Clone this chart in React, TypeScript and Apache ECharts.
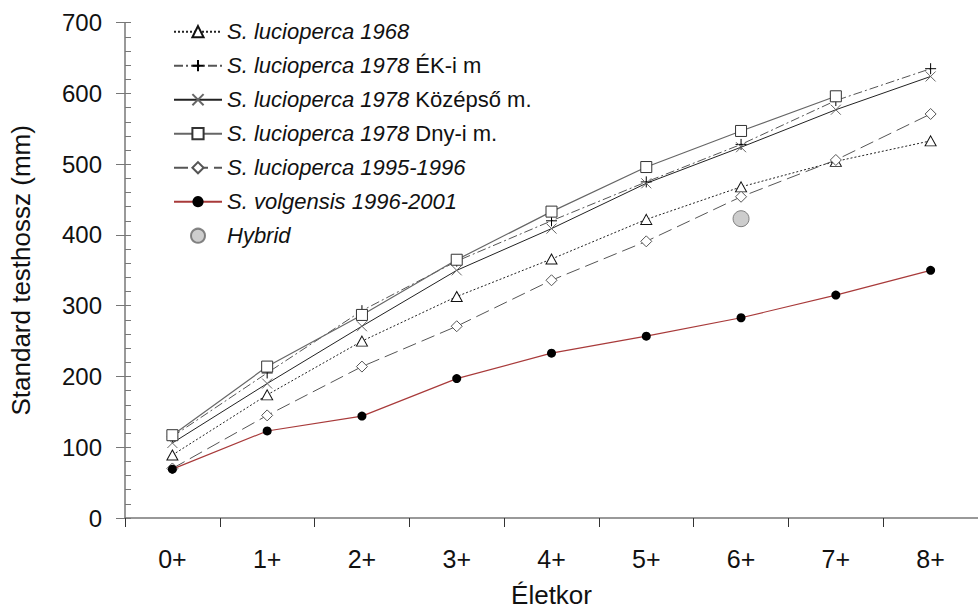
import React, { useEffect, useRef } from "react";
import * as echarts from "echarts";

const categories = ["0+", "1+", "2+", "3+", "4+", "5+", "6+", "7+", "8+"];
const yTicks = [0, 100, 200, 300, 400, 500, 600, 700];

const luc1968 = [89, 174, 250, 313, 366, 422, 468, 504, 533];
const luc1978EK = [115, 205, 293, 363, 420, 475, 528, 590, 635];
const luc1978Kozep = [106, 190, 271, 350, 409, 473, 524, 577, 624];
const luc1978Dny = [117, 214, 287, 365, 433, 496, 547, 596, null];
const luc1995 = [70, 145, 214, 271, 336, 391, 454, 506, 571];
const volgensis = [69, 123, 144, 197, 233, 257, 283, 315, 350];
const hybrid = [null, null, null, null, null, null, 423, null, null];

const legendLabels: Record<string, [string, string]> = {
  "S. lucioperca 1968": ["S. lucioperca 1968", ""],
  "S. lucioperca 1978 ÉK-i m": ["S. lucioperca 1978", "ÉK-i m"],
  "S. lucioperca 1978 Középső m.": ["S. lucioperca 1978", "Középső m."],
  "S. lucioperca 1978 Dny-i m.": ["S. lucioperca 1978", "Dny-i m."],
  "S. lucioperca 1995-1996": ["S. lucioperca 1995-1996", ""],
  "S. volgensis 1996-2001": ["S. volgensis 1996-2001", ""],
  Hybrid: ["Hybrid", ""],
};

const FONT = "Arial, 'Liberation Sans', sans-serif";

export default function App() {
  const ref = useRef<HTMLDivElement>(null);
  useEffect(() => {
    if (!ref.current) return;
    const chart = echarts.init(ref.current, undefined, { renderer: "svg" });
    const axisColor = "#777";
    chart.setOption({
      animation: false,
      backgroundColor: "#fff",
      textStyle: { fontFamily: FONT },
      grid: { left: 125, top: 22.7, width: 857.6, height: 496.3, containLabel: false },
      legend: {
        orient: "vertical",
        left: 173,
        top: 20.7,
        padding: 0,
        itemWidth: 48,
        itemHeight: 14,
        itemGap: 12,
        selectedMode: false,
        textStyle: {
          color: "#111",
          fontSize: 22,
          lineHeight: 22,
          fontFamily: FONT,
          rich: {
            i: { fontStyle: "italic", fontSize: 22, fontFamily: FONT, color: "#111" },
            n: { fontSize: 22, fontFamily: FONT, color: "#111" },
          },
        },
        formatter: (name: string) => {
          const p = legendLabels[name] || [name, ""];
          return p[1] ? `{i|${p[0]}} {n|${p[1]}}` : `{i|${p[0]}}`;
        },
        data: Object.keys(legendLabels),
      },
      xAxis: {
        type: "category",
        data: categories,
        boundaryGap: true,
        name: "Életkor",
        nameLocation: "middle",
        nameGap: 64,
        nameTextStyle: { fontSize: 26, color: "#111", fontFamily: FONT },
        axisLine: { lineStyle: { color: axisColor, width: 1.5 } },
        axisTick: { show: true, length: 9, interval: 0, lineStyle: { color: "#333" } },
        axisLabel: { fontSize: 25, color: "#111", margin: 28, interval: 0 },
        splitLine: { show: false },
      },
      yAxis: [
        {
          type: "value",
          min: 0,
          max: 700,
          interval: 100,
          name: "Standard testhossz (mm)",
          nameLocation: "middle",
          nameGap: 91,
          nameTextStyle: { fontSize: 26, color: "#111", fontFamily: FONT },
          axisLine: { show: true, lineStyle: { color: axisColor, width: 1.5 } },
          axisTick: { show: true, length: 9, lineStyle: { color: axisColor } },
          axisLabel: {
            fontSize: 24,
            color: "#111",
            margin: 23,
            formatter: (v: number) => (yTicks.includes(v) ? String(v) : ""),
          },
          splitLine: { show: false },
        },
        {
          type: "value",
          min: 0,
          max: 700,
          interval: 20,
          position: "left",
          axisLine: { show: false },
          axisTick: { show: true, inside: true, length: 6, lineStyle: { color: axisColor } },
          axisLabel: { show: false },
          splitLine: { show: false },
        },
      ],
      series: [
        {
          name: "S. lucioperca 1968",
          type: "line",
          data: luc1968,
          symbol: "triangle",
          symbolSize: [11, 10],
          lineStyle: { color: "#222", width: 1, type: [2, 2] },
          itemStyle: { color: "#fff", borderColor: "#111", borderWidth: 1 },
          z: 3,
        },
        {
          name: "S. lucioperca 1978 ÉK-i m",
          type: "line",
          data: luc1978EK,
          symbol: "path://M5,0L5,10M0,5L10,5",
          symbolSize: 11,
          lineStyle: { color: "#555", width: 1, type: [9, 3, 2, 3] },
          itemStyle: { color: "#000", borderColor: "#000", borderWidth: 1 },
          z: 3,
        },
        {
          name: "S. lucioperca 1978 Középső m.",
          type: "line",
          data: luc1978Kozep,
          symbol: "path://M0,0L10,10M10,0L0,10",
          symbolSize: 10,
          lineStyle: { color: "#222", width: 1 },
          itemStyle: { color: "#666", borderColor: "#666", borderWidth: 1 },
          z: 3,
        },
        {
          name: "S. lucioperca 1978 Dny-i m.",
          type: "line",
          data: luc1978Dny,
          symbol: "rect",
          symbolSize: 11,
          connectNulls: false,
          lineStyle: { color: "#666", width: 1.2 },
          itemStyle: { color: "#fff", borderColor: "#333", borderWidth: 1 },
          z: 4,
        },
        {
          name: "S. lucioperca 1995-1996",
          type: "line",
          data: luc1995,
          symbol: "diamond",
          symbolSize: 11,
          lineStyle: { color: "#555", width: 1, type: [14, 6] },
          itemStyle: { color: "#fff", borderColor: "#555", borderWidth: 1 },
          z: 3,
        },
        {
          name: "S. volgensis 1996-2001",
          type: "line",
          data: volgensis,
          symbol: "circle",
          symbolSize: 9,
          lineStyle: { color: "#a83a3a", width: 1.2 },
          itemStyle: { color: "#000", borderColor: "#000", borderWidth: 0 },
          z: 5,
        },
        {
          name: "Hybrid",
          type: "scatter",
          data: hybrid,
          symbol: "circle",
          symbolSize: 16,
          itemStyle: { color: "#c0c0c0", borderColor: "#666", borderWidth: 1 },
          z: 5,
        },
      ],
    });
    return () => chart.dispose();
  }, []);
  return (
    <div
      ref={ref}
      style={{ position: "absolute", left: 0, top: 0, width: 978, height: 613, background: "#fff" }}
    />
  );
}
